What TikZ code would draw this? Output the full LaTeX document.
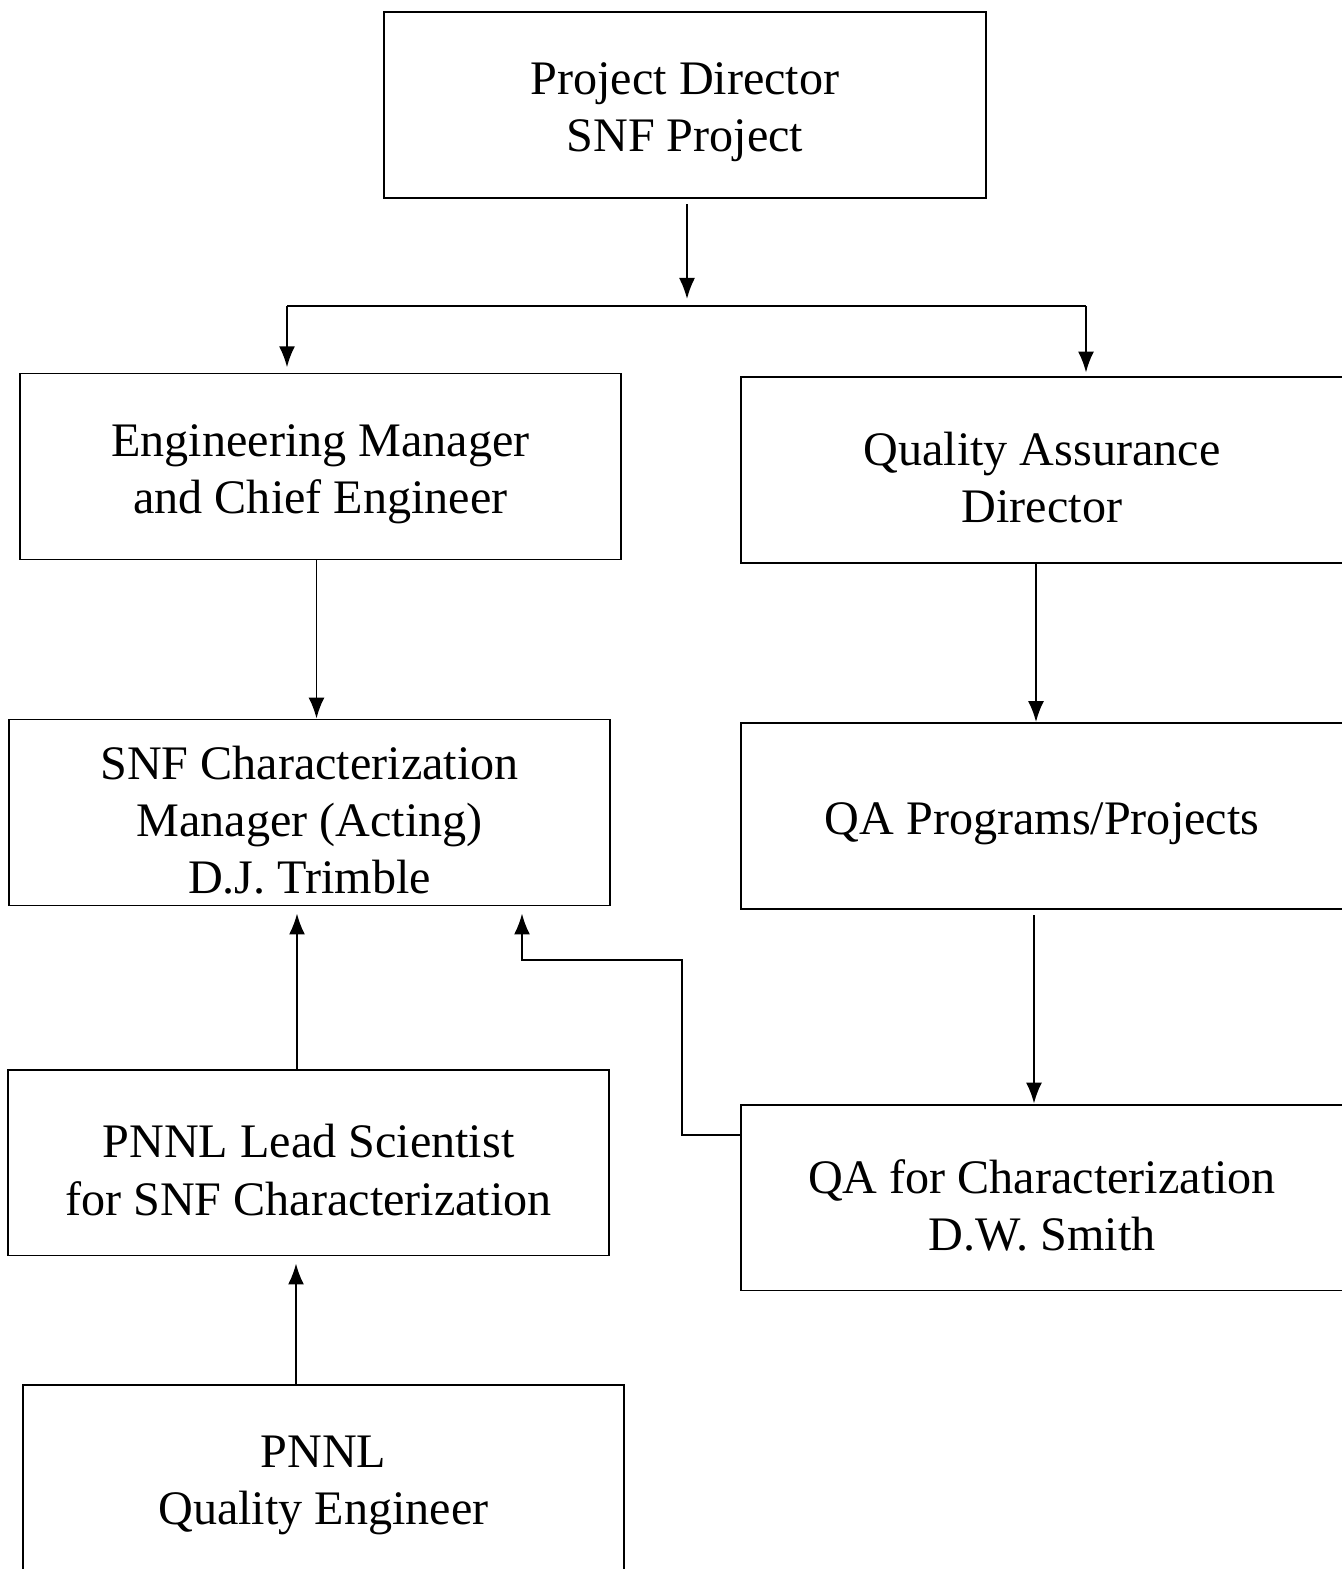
\documentclass[tikz,border=0pt]{standalone}
\usepackage{fontspec}
\setmainfont{Liberation Serif}
\usetikzlibrary{arrows.meta}
\begin{document}
\begin{tikzpicture}[x=0.02cm,y=-0.02cm,
	box/.style={draw,line width=1.1pt,inner sep=0pt,
		minimum width=12.04cm,minimum height=3.72cm},
	txt/.style={align=center,inner sep=0pt,yshift=-0.15cm,
		font=\fontsize{27.4}{32.5}\selectfont},
	arr/.style={line width=1.1pt,-{Latex[length=0.42cm,width=0.32cm]}}]
	\clip (0,0) rectangle (1342,1569);
	\node[box,label={[txt]center:Project Director\\SNF Project}] (dir) at (685,105) {};
	\node[box,label={[txt]center:Engineering Manager\\and Chief Engineer}] (eng) at (320.5,466.5) {};
	\node[box,label={[txt]center:Quality Assurance\\Director}] (qad) at (1042,470) {};
	\node[box,label={[txt]center:SNF Characterization\\Manager (Acting)\\D.J. Trimble}] (snf) at (309.5,812.5) {};
	\node[box,label={[txt]center:QA Programs/Projects}] (qap) at (1042,816) {};
	\node[box,label={[txt]center:PNNL Lead Scientist\\for SNF Characterization}] (lead) at (308.5,1162.5) {};
	\node[box,label={[txt]center:QA for Characterization\\D.W. Smith}] (qac) at (1042,1197.5) {};
	\node[box,label={[txt]center:PNNL\\Quality Engineer}] (qe) at (323.5,1478) {};
	% fork below the director
	\coordinate (fork) at (687,306);
	\coordinate (forkL) at (287,306);
	\coordinate (forkR) at (1086,306);
	\draw[arr,shorten <=3pt,shorten >=4pt] (fork |- dir.south) -- (fork);
	\draw[line width=1.1pt] (forkL) -- (forkR);
	\draw[arr,shorten >=3pt] (forkL) -- (forkL |- eng.north);
	\draw[arr,shorten >=2pt] (forkR) -- (forkR |- qad.north);
	% down the two columns
	\draw[arr] ([xshift=-0.08cm]eng.south) -- ([xshift=-0.08cm]eng.south |- snf.north);
	\draw[arr] ([xshift=-0.12cm]qad.south) -- ([xshift=-0.12cm]qad.south |- qap.north);
	\draw[arr,shorten <=3pt] ([xshift=-0.16cm]qap.south) -- ([xshift=-0.16cm]qap.south |- qac.north);
	% reporting upwards
	\draw[arr,shorten >=4pt] ([xshift=-0.23cm]lead.north) -- ([xshift=-0.23cm]lead.north |- snf.south);
	\draw[arr,shorten >=4pt] ([xshift=-0.55cm]qe.north) -- ([xshift=-0.55cm]qe.north |- lead.south);
	\coordinate (bendA) at (682,1135);
	\coordinate (bendB) at (682,960);
	\coordinate (bendC) at (522,960);
	\draw[arr,shorten >=4pt] (qac.west |- bendA) -- (bendA) -- (bendB) -- (bendC) -- (bendC |- snf.south);
\end{tikzpicture}
\end{document}
